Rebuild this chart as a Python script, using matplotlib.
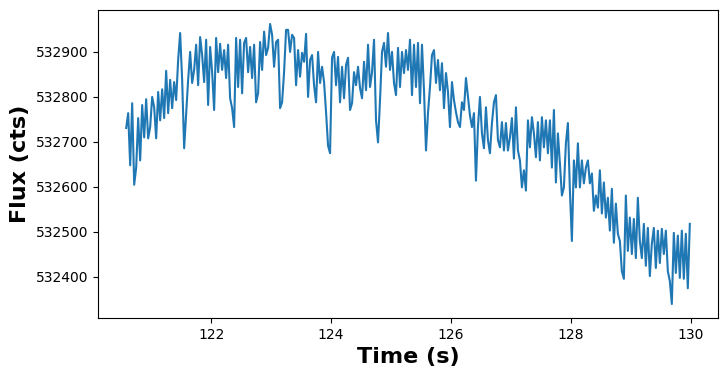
import numpy as np
import matplotlib
matplotlib.use("Agg")
import matplotlib.pyplot as plt
from matplotlib.ticker import ScalarFormatter

t_start = 120.583
t_end = 129.983

flux = [
    532731, 532764, 532648, 532786, 532605, 532643, 532753, 532659, 532782, 532710,
    532795, 532708, 532733, 532800, 532777, 532708, 532811, 532748, 532817, 532753,
    532858, 532764, 532838, 532775, 532833, 532793, 532882, 532942, 532838, 532686,
    532764, 532838, 532900, 532831, 532860, 532916, 532826, 532933, 532893, 532833,
    532927, 532782, 532911, 532855, 532771, 532931, 532855, 532918, 532860, 532904,
    532842, 532916, 532797, 532775, 532733, 532931, 532822, 532927, 532808, 532920,
    532931, 532855, 532911, 532842, 532916, 532788, 532808, 532922, 532860, 532945,
    532893, 532909, 532962, 532938, 532867, 532922, 532927, 532775, 532788, 532855,
    532949, 532949, 532900, 532938, 532931, 532826, 532904, 532845, 532898, 532878,
    532940, 532800, 532882, 532893, 532826, 532788, 532900, 532831, 532867, 532833,
    532766, 532692, 532675, 532887, 532900, 532826, 532889, 532788, 532867, 532797,
    532871, 532887, 532771, 532786, 532855, 532826, 532867, 532820, 532797, 532878,
    532815, 532916, 532822, 532855, 532927, 532748, 532699, 532793, 532900, 532920,
    532867, 532942, 532860, 532900, 532831, 532804, 532909, 532822, 532900, 532853,
    532904, 532860, 532927, 532804, 532916, 532822, 532920, 532786, 532916, 532815,
    532681, 532764, 532822, 532893, 532904, 532831, 532882, 532815, 532875, 532775,
    532853, 532811, 532733, 532833, 532793, 532766, 532744, 532733, 532788, 532771,
    532842, 532800, 532759, 532733, 532764, 532614, 532733, 532800, 532719, 532686,
    532777, 532704, 532675, 532742, 532788, 532804, 532704, 532688, 532744, 532681,
    532742, 532681, 532710, 532753, 532663, 532777, 532681, 532659, 532599, 532637,
    532592, 532748, 532688, 532755, 532719, 532666, 532744, 532659, 532755, 532688,
    532748, 532675, 532748, 532643, 532771, 532610, 532719, 532652, 532581, 532599,
    532697, 532742, 532592, 532480, 532659, 532599, 532697, 532599, 532659, 532608,
    532643, 532659, 532608, 532630, 532547, 532581, 532554, 532637, 532541, 532610,
    532532, 532576, 532503, 532596, 532476, 532563, 532496, 532480, 532413, 532396,
    532581, 532458, 532532, 532451, 532529, 532442, 532576, 532480, 532442, 532518,
    532425, 532509, 532402, 532474, 532509, 532420, 532503, 532431, 532507, 532451,
    532503, 532413, 532391, 532340, 532498, 532409, 532492, 532398, 532503, 532396,
    532496, 532375, 532518,
]

time = np.linspace(t_start, t_end, len(flux))

fig = plt.figure(figsize=(7.27, 3.77), dpi=100)
ax = fig.add_axes([98 / 727, 1 - 318 / 377, (718 - 98) / 727, (318 - 10) / 377])
ax.plot(time, flux, color="#1f77b4", linewidth=1.5)
ax.set_xticks([122, 124, 126, 128, 130])
ax.set_yticks([532400, 532500, 532600, 532700, 532800, 532900])
fmt = ScalarFormatter(useOffset=False)
fmt.set_scientific(False)
ax.yaxis.set_major_formatter(fmt)
ax.set_xlabel("Time (s)", fontsize=16, fontweight="bold")
ax.set_ylabel("Flux (cts)", fontsize=16, fontweight="bold")
fig.savefig("out.png", dpi=100)
